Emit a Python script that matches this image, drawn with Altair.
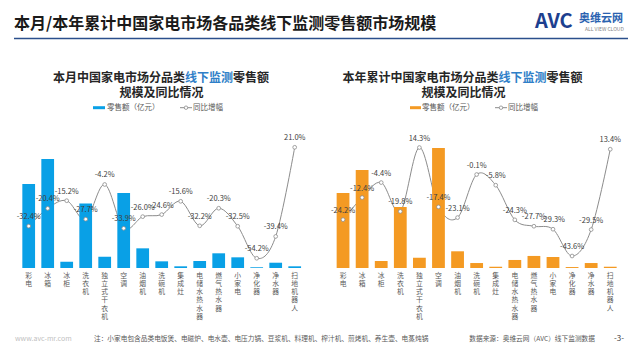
import altair as alt
import pandas as pd

categories = ["彩电", "冰箱", "冰柜", "洗衣机", "独立式干衣机", "空调", "油烟机", "洗碗机",
              "集成灶", "电储水热水器", "燃气热水器", "小家电", "净化器", "净水器", "扫地机器人"]
month_sales = [79.5, 103, 6, 61, 10.7, 71, 18.6, 6.3, 1.6, 6.6, 13.9, 10.1, 0.7, 5.0, 1.6]
month_yoy = [-32.4, -20.4, -15.2, -27.7, -4.2, -33.9, -26.0, -24.6, -15.6, -32.2, -20.3, -32.5, -54.2, -39.4, 21.0]
ytd_sales = [710, 927, 66, 577, 97, 1135, 158, 47, 12, 76, 114, 104, 9, 47, 12]
ytd_yoy = [-24.2, -12.4, -4.4, -19.8, 14.3, -17.4, -23.1, -0.1, -5.8, -24.3, -27.7, -29.3, -43.6, -29.5, 13.4]

main_title = "本月/本年累计中国家电市场各品类线下监测零售额市场规模"
left_title = ["本月中国家电市场分品类", "线下监测", "零售额", "规模及同比情况"]
right_title = ["本年累计中国家电市场分品类", "线下监测", "零售额", "规模及同比情况"]
legend_bar = "零售额（亿元）"
legend_line = "同比增幅"
site = "www.avc-mr.com"
note = "注：小家电包含品类电饭煲、电磁炉、电水壶、电压力锅、豆浆机、料理机、榨汁机、煎烤机、养生壶、电蒸炖锅"
source = "数据来源：奥维云网（AVC）线下监测数据"
page_no = "-3-"

FONT = "Noto Sans CJK SC"
Y_RANGE = [260, 112]
one = pd.DataFrame({"a": [0]})


def txt(text, x, y, size, color="#262626", weight="normal", align="left", baseline="middle"):
    return alt.Chart(one).mark_text(
        font=FONT, fontSize=size, color=color, fontWeight=weight, align=align, baseline=baseline
    ).encode(x=alt.value(x), y=alt.value(y), text=alt.value(text))


def rule(x1, x2, y, color, width):
    return alt.Chart(one).mark_rule(color=color, strokeWidth=width).encode(
        x=alt.value(x1), x2=alt.value(x2), y=alt.value(y))


def panel(sales, yoy, color, x_range, sales_max, yoy_dom):
    df = pd.DataFrame({"cat": categories, "sales": sales, "yoy": yoy})
    df["lab"] = [f"{v:.1f}%" for v in yoy]
    xs = alt.Scale(domain=categories, range=x_range, paddingInner=0.33, paddingOuter=0.165)
    ys_line = alt.Scale(domain=yoy_dom, range=Y_RANGE, zero=False, nice=False)
    ys_bar = alt.Scale(domain=[0, sales_max], range=Y_RANGE, nice=False)
    base = alt.Chart(df)
    xn = alt.X("cat:N", sort=None, scale=xs, axis=None)
    line = base.mark_line(interpolate="cardinal", color="#8c8c8c", strokeWidth=1).encode(
        x=xn, y=alt.Y("yoy:Q", scale=ys_line, axis=None))
    bars = base.mark_bar(color=color).encode(
        x=alt.X("cat:N", sort=None, scale=xs,
                axis=alt.Axis(orient="bottom", title=None, labelAngle=0, ticks=False, domain=False,
                              labelExpr="split(datum.label, '')", labelFont=FONT, labelFontSize=6.8,
                              labelColor="#595959", labelLineHeight=8.3, labelPadding=4,
                              labelBaseline="top", labelOverlap=False)),
        y=alt.Y("sales:Q", scale=ys_bar, axis=None))
    pts = base.mark_circle(fill="white", stroke="#8c8c8c", strokeWidth=0.8, size=14, opacity=1).encode(
        x=xn, y=alt.Y("yoy:Q", scale=ys_line, axis=None))
    labels = base.mark_text(font=FONT, fontSize=7.5, color="#404040", dy=-9, baseline="middle").encode(
        x=xn, y=alt.Y("yoy:Q", scale=ys_line, axis=None), text="lab:N")
    return [line, bars, pts, labels]


left = panel(month_sales, month_yoy, "#09a0e6", [11.2, 296.2], 140, [-60.8, 39.5])
right = panel(ytd_sales, ytd_yoy, "#f49a23", [325.5, 611.8], 1400, [-50, 29])

deco = [
    txt(main_title, 6, 16, 16, "#1a1a1a", "bold"),
    rule(6, 620, 30.5, "#2b4f8c", 1.5),
    txt("AVC", 527, 14, 20, "#1d3f8f", "bold"),
    txt("奥维云网", 571, 11, 11, "#2a62b0", "bold"),
    txt("ALL VIEW CLOUD", 577, 21, 5, "#7f7f7f"),
    # left panel title
    txt(left_title[0], 45, 70, 12, "#262626", "bold"),
    txt(left_title[1], 177, 70, 12, "#2f7fc8", "bold"),
    txt(left_title[2], 225, 70, 12, "#262626", "bold"),
    txt(left_title[3], 153.5, 85, 12, "#262626", "bold", "center"),
    # right panel title
    txt(right_title[0], 334.5, 70, 12, "#262626", "bold"),
    txt(right_title[1], 490.5, 70, 12, "#2f7fc8", "bold"),
    txt(right_title[2], 538.5, 70, 12, "#262626", "bold"),
    txt(right_title[3], 455.5, 85, 12, "#262626", "bold", "center"),
    # legends
    rule(85, 97, 99.7, "#09a0e6", 3),
    txt(legend_bar, 99, 99.7, 7.5, "#595959"),
    rule(172, 184, 99.7, "#8c8c8c", 1),
    alt.Chart(one).mark_circle(fill="white", stroke="#8c8c8c", strokeWidth=0.8, size=12, opacity=1).encode(
        x=alt.value(178), y=alt.value(99.7)),
    txt(legend_line, 185, 99.7, 7.5, "#595959"),
    rule(402, 413, 99.7, "#f49a23", 3),
    txt(legend_bar, 414, 99.7, 7.5, "#595959"),
    rule(487, 499, 99.7, "#8c8c8c", 1),
    alt.Chart(one).mark_circle(fill="white", stroke="#8c8c8c", strokeWidth=0.8, size=12, opacity=1).encode(
        x=alt.value(493), y=alt.value(99.7)),
    txt(legend_line, 500, 99.7, 7.5, "#595959"),
    # footer
    txt(site, 7, 331, 7, "#bfbfbf"),
    txt(note, 86, 331, 6.7, "#595959"),
    txt(source, 587, 331, 6.7, "#595959", "normal", "right"),
    txt(page_no, 611, 331, 8, "#404040", "normal", "center"),
]

chart = alt.layer(*left, *right, *deco).resolve_scale(
    x="independent", y="independent"
).properties(
    width=624, height=260, autosize="none",
    padding={"left": 0, "top": 0, "right": 0, "bottom": 84},
    background="white",
).configure_view(stroke=None)

chart.save("out.html", embed_options={"renderer": "svg", "actions": False})
